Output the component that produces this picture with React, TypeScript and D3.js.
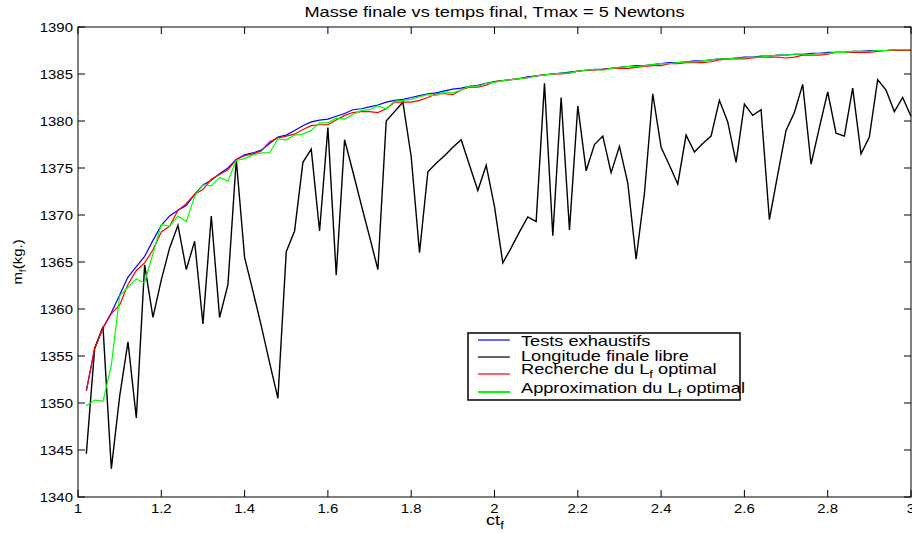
import React from 'react';
import * as d3 from 'd3';

// temps final (ct_f) sampled every 0.02
const ctf = [
  1.02, 1.04, 1.06, 1.08, 1.1, 1.12, 1.14, 1.16, 1.18, 1.2,
  1.22, 1.24, 1.26, 1.28, 1.3, 1.32, 1.34, 1.36, 1.38, 1.4,
  1.42, 1.44, 1.46, 1.48, 1.5, 1.52, 1.54, 1.56, 1.58, 1.6,
  1.62, 1.64, 1.66, 1.68, 1.7, 1.72, 1.74, 1.76, 1.78, 1.8,
  1.82, 1.84, 1.86, 1.88, 1.9, 1.92, 1.94, 1.96, 1.98, 2.0,
  2.02, 2.04, 2.06, 2.08, 2.1, 2.12, 2.14, 2.16, 2.18, 2.2,
  2.22, 2.24, 2.26, 2.28, 2.3, 2.32, 2.34, 2.36, 2.38, 2.4,
  2.42, 2.44, 2.46, 2.48, 2.5, 2.52, 2.54, 2.56, 2.58, 2.6,
  2.62, 2.64, 2.66, 2.68, 2.7, 2.72, 2.74, 2.76, 2.78, 2.8,
  2.82, 2.84, 2.86, 2.88, 2.9, 2.92, 2.94, 2.96, 2.98, 3.0,
];

// Tests exhaustifs (blue)
const testsExhaustifs = [
  1351.3, 1355.8, 1358.0, 1359.6, 1361.5, 1363.4, 1364.5, 1365.6, 1367.3, 1368.9,
  1369.9, 1370.5, 1371.0, 1372.2, 1373.2, 1373.7, 1374.4, 1375.0, 1375.9, 1376.4,
  1376.6, 1376.9, 1377.6, 1378.3, 1378.5, 1379.0, 1379.5, 1379.9, 1380.1, 1380.2,
  1380.5, 1380.8, 1381.2, 1381.3, 1381.5, 1381.7, 1382.0, 1382.2, 1382.3, 1382.5,
  1382.7, 1382.9, 1383.0, 1383.2, 1383.4, 1383.5, 1383.7, 1383.8, 1384.0, 1384.2,
  1384.3, 1384.4, 1384.5, 1384.7, 1384.8, 1384.9, 1385.0, 1385.1, 1385.2, 1385.3,
  1385.4, 1385.5, 1385.5, 1385.6, 1385.7, 1385.8, 1385.9, 1385.9, 1386.0, 1386.1,
  1386.2, 1386.2, 1386.3, 1386.4, 1386.4, 1386.5, 1386.6, 1386.6, 1386.7, 1386.8,
  1386.8, 1386.9, 1386.9, 1387.0, 1387.0, 1387.1, 1387.1, 1387.2, 1387.2, 1387.3,
  1387.3, 1387.3, 1387.4, 1387.4, 1387.5, 1387.5, 1387.5, 1387.6, 1387.6, 1387.6,
];

// Longitude finale libre (black)
const longitudeLibre = [
  1344.6, 1355.8, 1358.1, 1343.0, 1350.7, 1356.5, 1348.4, 1364.7, 1359.1, 1363.1,
  1366.5, 1368.9, 1364.2, 1367.2, 1358.4, 1369.9, 1359.1, 1362.6, 1375.9, 1365.5,
  1361.9, 1358.2, 1354.3, 1350.5, 1366.1, 1368.3, 1375.6, 1377.0, 1368.3, 1379.3,
  1363.6, 1378.0, 1374.6, 1371.1, 1367.7, 1364.2, 1380.0, 1381.0, 1382.0, 1376.2,
  1366.0, 1374.6, 1375.5, 1376.3, 1377.2, 1378.0, 1375.3, 1372.6, 1375.3, 1370.9,
  1364.9, 1366.5, 1368.2, 1369.8, 1369.3, 1384.0, 1367.8, 1382.5, 1368.4, 1381.6,
  1374.7, 1377.5, 1378.4, 1374.5, 1377.3, 1373.4, 1365.3, 1372.3, 1382.9, 1377.2,
  1375.3, 1373.3, 1378.5, 1376.7, 1377.6, 1378.4, 1382.2, 1379.9, 1375.6, 1381.8,
  1380.6, 1381.2, 1369.5, 1374.3, 1379.0, 1380.9, 1383.9, 1375.4, 1379.3, 1383.1,
  1378.7, 1378.4, 1383.5, 1376.5, 1378.3, 1384.4, 1383.3, 1381.0, 1382.5, 1380.5,
];

// Recherche du Lf optimal (red)
const rechercheLf = [
  1351.3, 1355.8, 1358.0, 1359.5, 1360.4, 1362.6, 1364.1, 1364.9, 1366.3, 1368.2,
  1368.8, 1370.5, 1371.2, 1372.2, 1372.7, 1373.8, 1374.3, 1374.8, 1375.9, 1376.3,
  1376.5, 1376.8, 1377.8, 1378.2, 1378.4, 1378.6, 1379.1, 1379.5, 1379.6, 1379.6,
  1380.1, 1380.6, 1380.9, 1381.0, 1381.0, 1380.9, 1381.3, 1382.0, 1382.0, 1382.0,
  1382.2, 1382.5, 1382.9, 1382.9, 1382.8, 1383.3, 1383.6, 1383.6, 1383.8, 1384.2,
  1384.3, 1384.4, 1384.5, 1384.6, 1384.8, 1384.9, 1385.0, 1385.0, 1385.1, 1385.3,
  1385.4, 1385.4, 1385.5, 1385.6, 1385.6, 1385.6, 1385.7, 1385.8, 1385.9, 1385.9,
  1386.1, 1386.1, 1386.2, 1386.2, 1386.2, 1386.3, 1386.5, 1386.6, 1386.6, 1386.6,
  1386.7, 1386.8, 1386.8, 1386.8, 1386.7, 1386.8, 1387.0, 1387.0, 1387.0, 1387.1,
  1387.3, 1387.3, 1387.3, 1387.3, 1387.3, 1387.4, 1387.5, 1387.5, 1387.5, 1387.5,
];

// Approximation du Lf optimal (green)
const approxLf = [
  1349.7, 1350.3, 1350.2, 1354.0, 1361.4, 1362.3, 1363.2, 1362.8, 1365.9, 1369.0,
  1368.8, 1369.9, 1369.3, 1372.0, 1373.2, 1373.1, 1374.0, 1373.6, 1375.8, 1376.0,
  1376.4, 1376.6, 1376.6, 1378.1, 1378.0, 1378.5, 1378.6, 1379.0, 1379.8, 1379.8,
  1380.3, 1380.2, 1380.7, 1381.1, 1381.2, 1381.6, 1381.3, 1382.1, 1382.2, 1382.3,
  1382.6, 1382.8, 1382.7, 1383.1, 1383.0, 1383.3, 1383.7, 1383.7, 1384.0, 1384.1,
  1384.3, 1384.4, 1384.5, 1384.6, 1384.8, 1384.9, 1385.0, 1385.1, 1385.1, 1385.3,
  1385.4, 1385.5, 1385.4, 1385.6, 1385.7, 1385.8, 1385.8, 1385.9, 1386.0, 1386.1,
  1386.1, 1386.2, 1386.3, 1386.3, 1386.4, 1386.5, 1386.6, 1386.6, 1386.7, 1386.7,
  1386.8, 1386.8, 1386.9, 1387.0, 1387.0, 1387.1, 1387.1, 1387.1, 1387.2, 1387.2,
  1387.3, 1387.3, 1387.4, 1387.4, 1387.4, 1387.5, 1387.5, 1387.6, 1387.6, 1387.6,
];

const xTicks = [1, 1.2, 1.4, 1.6, 1.8, 2, 2.2, 2.4, 2.6, 2.8, 3];
const yTicks = [1340, 1345, 1350, 1355, 1360, 1365, 1370, 1375, 1380, 1385, 1390];

const series = [
  { name: 'Tests exhaustifs', sub: null, values: testsExhaustifs, color: '#0000ff', width: 1.2 },
  { name: 'Longitude finale libre', sub: null, values: longitudeLibre, color: '#000000', width: 1.4 },
  { name: 'Recherche du L', sub: ' optimal', values: rechercheLf, color: '#ff0000', width: 1.2 },
  { name: 'Approximation du L', sub: ' optimal', values: approxLf, color: '#00ff00', width: 1.2 },
];

const W = 912;
const H = 533;
const margin = { top: 27, right: 1, bottom: 36, left: 78 };
const FONT = '"Liberation Sans", Arial, Helvetica, sans-serif';
const SX = 1.3; // text in the original is drawn wide

export default function App() {
  const x = d3.scaleLinear().domain([1, 3]).range([margin.left, W - margin.right]);
  const y = d3.scaleLinear().domain([1340, 1390]).range([H - margin.bottom, margin.top]);
  const x0 = x.range()[0], x1 = x.range()[1];
  const y0 = y.range()[0], y1 = y.range()[1];

  const line = d3.line<number>()
    .x((d, i) => x(ctf[i]))
    .y(d => y(d));

  const legend = { x: 468, y: 333, w: 272, h: 67 };
  const rowY = [340, 357, 374, 392];
  const textY = [345.5, 360.5, 373.5, 392.5];

  return (
    <div style={{ position: 'absolute', left: 0, top: 0 }}>
      <svg width={W} height={H} style={{ display: 'block', background: '#fff' }} fontFamily={FONT}>
        {/* series */}
        {series.map(s => (
          <path key={s.name} d={line(s.values) || ''} fill="none" stroke={s.color}
            strokeWidth={s.width} strokeLinejoin="miter" />
        ))}

        {/* box */}
        <rect x={x0} y={y1} width={x1 - x0} height={y0 - y1} fill="none" stroke="#000" strokeWidth={1} />

        {/* ticks, inward on all sides */}
        {xTicks.map(t => (
          <g key={'x' + t}>
            <line x1={x(t)} x2={x(t)} y1={y0} y2={y0 - 7} stroke="#000" />
            <line x1={x(t)} x2={x(t)} y1={y1} y2={y1 + 7} stroke="#000" />
            <text transform={`translate(${x(t)},${y0 + 16}) scale(1.15,1)`} textAnchor="middle" fontSize={13}>{t}</text>
          </g>
        ))}
        {yTicks.map(t => (
          <g key={'y' + t}>
            <line x1={x0} x2={x0 + 7} y1={y(t)} y2={y(t)} stroke="#000" />
            <line x1={x1} x2={x1 - 7} y1={y(t)} y2={y(t)} stroke="#000" />
            <text transform={`translate(${x0 - 5},${y(t) + 4.5}) scale(1.15,1)`} textAnchor="end" fontSize={13}>{t}</text>
          </g>
        ))}

        {/* title */}
        <text transform={`translate(${(x0 + x1) / 2},17) scale(${SX},1)`} textAnchor="middle" fontSize={14}>
          Masse finale vs temps final, Tmax = 5 Newtons
        </text>

        {/* axis labels */}
        <text transform={`translate(486,525) scale(${SX},1)`} fontSize={14}>
          ct<tspan fontSize={10} dy={4}>f</tspan>
        </text>
        <text transform={`translate(22,${(y0 + y1) / 2}) rotate(-90) scale(1.15,1)`} textAnchor="middle" fontSize={13}>
          m<tspan fontSize={9} dy={4}>f</tspan><tspan dy={-4}>(kg.)</tspan>
        </text>

        {/* legend */}
        <rect x={legend.x} y={legend.y} width={legend.w} height={legend.h} fill="#fff" stroke="#000" strokeWidth={1.5} />
        {series.map((s, i) => (
          <g key={'lg' + s.name}>
            <line x1={478} x2={510} y1={rowY[i]} y2={rowY[i]} stroke={s.color} strokeWidth={i === 3 ? 2 : 1.2} />
            <text transform={`translate(521,${textY[i]}) scale(${SX},1)`} fontSize={14}>
              {s.name}
              {s.sub !== null && <tspan fontSize={10} dy={4}>f</tspan>}
              {s.sub !== null && <tspan dy={-4}>{s.sub}</tspan>}
            </text>
          </g>
        ))}
      </svg>
    </div>
  );
}
